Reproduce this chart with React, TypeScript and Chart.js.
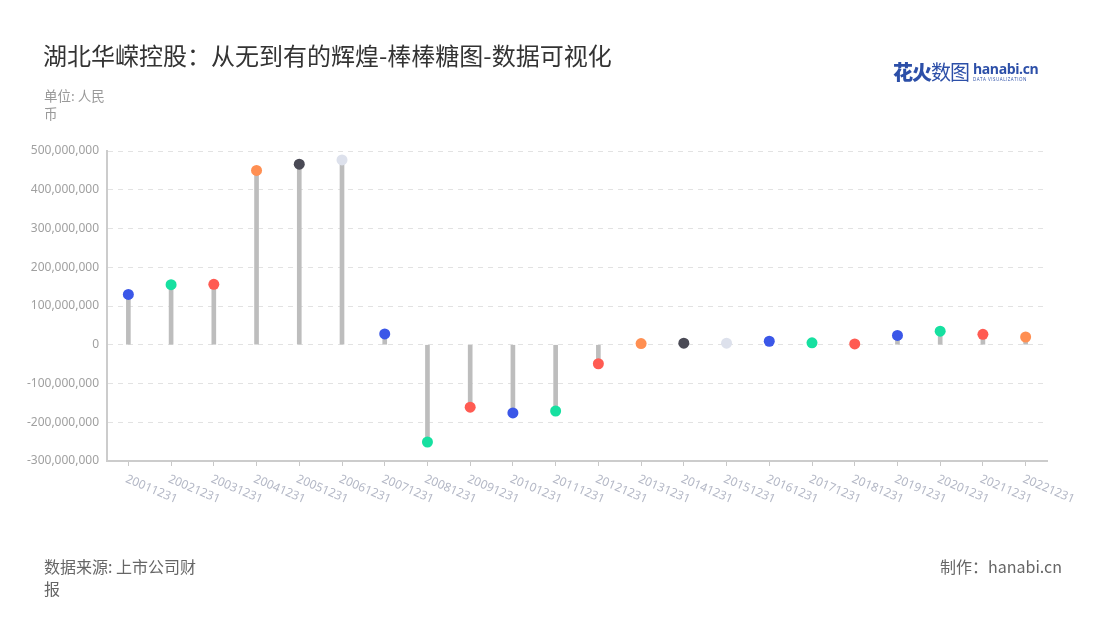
import React, { useEffect, useRef } from "react";
import { Chart, registerables } from "chart.js";

Chart.register(...registerables);

const categories: string[] = [
  "20011231", "20021231", "20031231", "20041231", "20051231", "20061231",
  "20071231", "20081231", "20091231", "20101231", "20111231", "20121231",
  "20131231", "20141231", "20151231", "20161231", "20171231", "20181231",
  "20191231", "20201231", "20211231", "20221231",
];

const profitValues: number[] = [
  130000000, 155000000, 156000000, 450000000, 466000000, 477000000,
  28000000, -251000000, -161000000, -176000000, -171000000, -49000000,
  3000000, 4000000, 4000000, 9000000, 5000000, 2000000,
  24000000, 35000000, 27000000, 20000000,
];

const dotColors: string[] = [
  "#3b57e8", "#16e0a0", "#ff5b52", "#ff8f52", "#4a4a55", "#dde1ec",
  "#3b57e8", "#16e0a0", "#ff5b52", "#3b57e8", "#16e0a0", "#ff5b52",
  "#ff8f52", "#4a4a55", "#dde1ec", "#3b57e8", "#16e0a0", "#ff5b52",
  "#3b57e8", "#16e0a0", "#ff5b52", "#ff8f52",
];

const yMin = -300000000;
const yMax = 500000000;
const yStep = 100000000;

const FONT = "'Noto Sans', 'Noto Sans CJK SC', sans-serif";

const xLabelPlugin = {
  id: "slantedXLabels",
  afterDraw(chart: any) {
    const scale = chart.scales.x;
    const ctx = chart.ctx;
    ctx.save();
    ctx.font = `12px ${FONT}`;
    ctx.fillStyle = "#b4b8c6";
    ctx.textAlign = "left";
    ctx.textBaseline = "top";
    const y = chart.chartArea.bottom + 12;
    categories.forEach((label, i) => {
      const x = scale.getPixelForTick(i);
      ctx.save();
      ctx.translate(x, y);
      ctx.rotate((23 * Math.PI) / 180);
      ctx.fillText(label, 0, 0);
      ctx.restore();
    });
    ctx.restore();
  },
};

export default function App() {
  const canvasRef = useRef<HTMLCanvasElement | null>(null);

  useEffect(() => {
    if (!canvasRef.current) return;
    const chart = new Chart(canvasRef.current, {
      type: "bar",
      data: {
        labels: categories,
        datasets: [
          {
            type: "line",
            label: "dots",
            data: profitValues,
            showLine: false,
            pointRadius: 5.5,
            pointHoverRadius: 5.5,
            pointBackgroundColor: dotColors,
            pointBorderWidth: 0,
            borderWidth: 0,
            order: 0,
          } as any,
          {
            type: "bar",
            label: "stems",
            data: profitValues,
            backgroundColor: "#bdbdbd",
            barThickness: 4,
            order: 1,
          } as any,
        ],
      },
      plugins: [xLabelPlugin],
      options: {
        animation: false,
        responsive: false,
        maintainAspectRatio: false,
        layout: { padding: { top: 151, right: 53, left: 0, bottom: 0 } },
        plugins: {
          legend: { display: false },
          tooltip: { enabled: false },
          title: { display: false },
        },
        scales: {
          x: {
            type: "category",
            offset: true,
            grid: {
              offset: false,
              drawOnChartArea: false,
              drawTicks: true,
              tickLength: 5,
              color: "#c8c8c8",
            },
            border: { color: "#cccccc", width: 2 },
            ticks: { display: false },
            afterFit: (scale: any) => {
              scale.height = 159;
            },
          },
          y: {
            min: yMin,
            max: yMax,
            grid: {
              drawTicks: false,
              color: "#e2e2e2",
              lineWidth: 1,
            },
            border: { color: "#cccccc", width: 2, dash: [5, 5] },
            ticks: {
              stepSize: yStep,
              padding: 8,
              color: "#a0a0a0",
              font: { size: 12, family: FONT },
              callback: (v: any) => Number(v).toLocaleString("en-US"),
            },
            afterFit: (scale: any) => {
              scale.width = 107;
            },
          },
        },
      },
    });
    return () => chart.destroy();
  }, []);

  return (
    <div
      style={{
        position: "fixed",
        left: 0,
        top: 0,
        width: 1100,
        height: 620,
        background: "#ffffff",
        fontFamily: FONT,
      }}
    >
      <canvas
        ref={canvasRef}
        width={1100}
        height={620}
        style={{ position: "absolute", left: 0, top: 0, width: 1100, height: 620 }}
      />
      <div
        style={{
          position: "absolute",
          left: 43,
          top: 38,
          fontSize: 24,
          color: "#333333",
          fontFamily: "'Noto Sans CJK SC', sans-serif",
          whiteSpace: "nowrap",
          lineHeight: "34px",
        }}
      >
        湖北华嵘控股：从无到有的辉煌-棒棒糖图-数据可视化
      </div>
      <div
        style={{
          position: "absolute",
          left: 44,
          top: 86,
          fontSize: 13.5,
          color: "#999999",
          fontFamily: "'Noto Sans CJK SC', sans-serif",
          lineHeight: "18px",
        }}
      >
        单位: 人民
        <br />币
      </div>
      <div
        style={{
          position: "absolute",
          left: 893,
          top: 58,
          display: "flex",
          alignItems: "center",
          whiteSpace: "nowrap",
        }}
      >
        <span
          style={{
            fontSize: 20,
            color: "#2c4fa8",
            fontFamily: "'Noto Sans CJK SC', sans-serif",
            lineHeight: "28px",
            letterSpacing: -1,
          }}
        >
          <span style={{ fontWeight: 900 }}>花火</span>
          <span style={{ fontWeight: 400 }}>数图</span>
        </span>
        <span style={{ display: "flex", flexDirection: "column", marginLeft: 4 }}>
          <span
            style={{
              fontSize: 14,
              fontWeight: 700,
              color: "#2c4fa8",
              fontFamily: "'Open Sans', sans-serif",
              lineHeight: "14px",
              letterSpacing: -0.4,
            }}
          >
            hanabi.cn
          </span>
          <span
            style={{
              fontSize: 4.5,
              color: "#2c4fa8",
              fontFamily: "'Open Sans', sans-serif",
              lineHeight: "7px",
              letterSpacing: 0.5,
            }}
          >
            DATA VISUALIZATION
          </span>
        </span>
      </div>
      <div
        style={{
          position: "absolute",
          left: 44,
          top: 555,
          fontSize: 16,
          color: "#666666",
          fontFamily: "'Noto Sans CJK SC', sans-serif",
          lineHeight: "22px",
        }}
      >
        数据来源: 上市公司财
        <br />报
      </div>
      <div
        style={{
          position: "absolute",
          right: 38,
          top: 555,
          fontSize: 16,
          color: "#666666",
          fontFamily: "'Noto Sans CJK SC', sans-serif",
          lineHeight: "22px",
          whiteSpace: "nowrap",
        }}
      >
        制作：hanabi.cn
      </div>
    </div>
  );
}
